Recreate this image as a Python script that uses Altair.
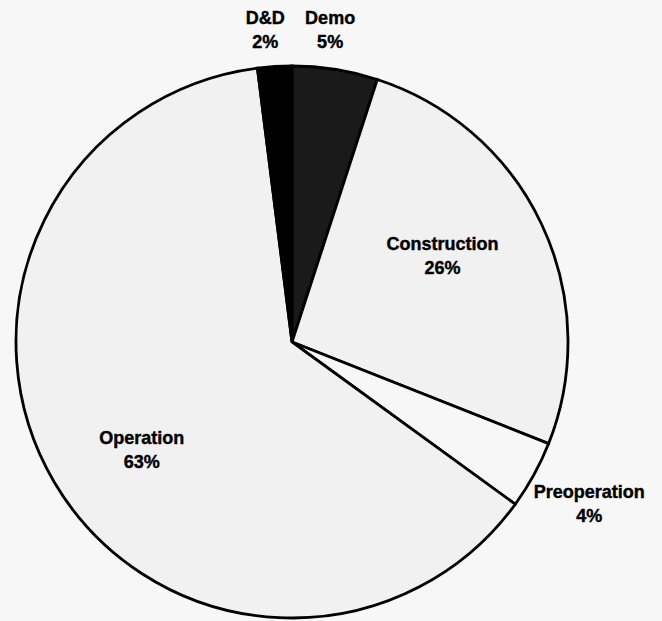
import altair as alt
import pandas as pd

# Slice data, clockwise from 12 o'clock
labels = ["Demo", "Construction", "Preoperation", "Operation", "D&D"]
shares = [5, 26, 4, 63, 2]
pct_text = ["5%", "26%", "4%", "63%", "2%"]

# Fill per slice
fills = ["#1a1a1a", "#f1f1f1", "#f7f7f7", "#f1f1f1", "#000000"]

df = pd.DataFrame({"label": labels, "value": shares, "pct": pct_text})
df["idx"] = range(len(df))
df["mid"] = df["value"].cumsum() - df["value"] / 2
df["text"] = df["label"] + "\n" + df["pct"]

CX, CY, R = 292, 342, 276
theta_scale = alt.Scale(domain=[0, 100])

pie = alt.Chart(df).mark_arc(
    outerRadius=R, stroke="black", strokeWidth=2.8
).encode(
    theta=alt.Theta("value:Q", stack=True, scale=theta_scale),
    order=alt.Order("idx:Q"),
    color=alt.Color("label:N", scale=alt.Scale(domain=labels, range=fills), legend=None),
    x=alt.value(CX),
    y=alt.value(CY),
)

# Label placement (polar radius plus a small nudge)
label_style = {
    "D&D": dict(radius=314, dx=-7, dy=-10),
    "Demo": dict(radius=314, dx=-11, dy=-13),
    "Construction": dict(radius=174, dx=-7, dy=-23),
    "Preoperation": dict(radius=330, dx=8, dy=-8),
    "Operation": dict(radius=185, dx=9, dy=3),
}

text_layers = []
for name, st in label_style.items():
    text_layers.append(
        alt.Chart(df).transform_filter(alt.datum.label == name).mark_text(
            font="Liberation Sans", fontWeight="bold", fontSize=18,
            lineBreak="\n", lineHeight=24, align="center", baseline="middle",
            color="black", stroke="black", strokeWidth=0.4, **st
        ).encode(
            theta=alt.Theta("mid:Q", stack=None, scale=theta_scale),
            text="text:N",
            x=alt.value(CX),
            y=alt.value(CY),
        )
    )

chart = alt.layer(pie, *text_layers).properties(
    width=662, height=621, background="#f7f7f7",
    autosize=alt.AutoSizeParams(type="none"), padding=0,
).configure_view(stroke=None)

chart.save("out.html", embed_options={"renderer": "svg", "actions": False})
